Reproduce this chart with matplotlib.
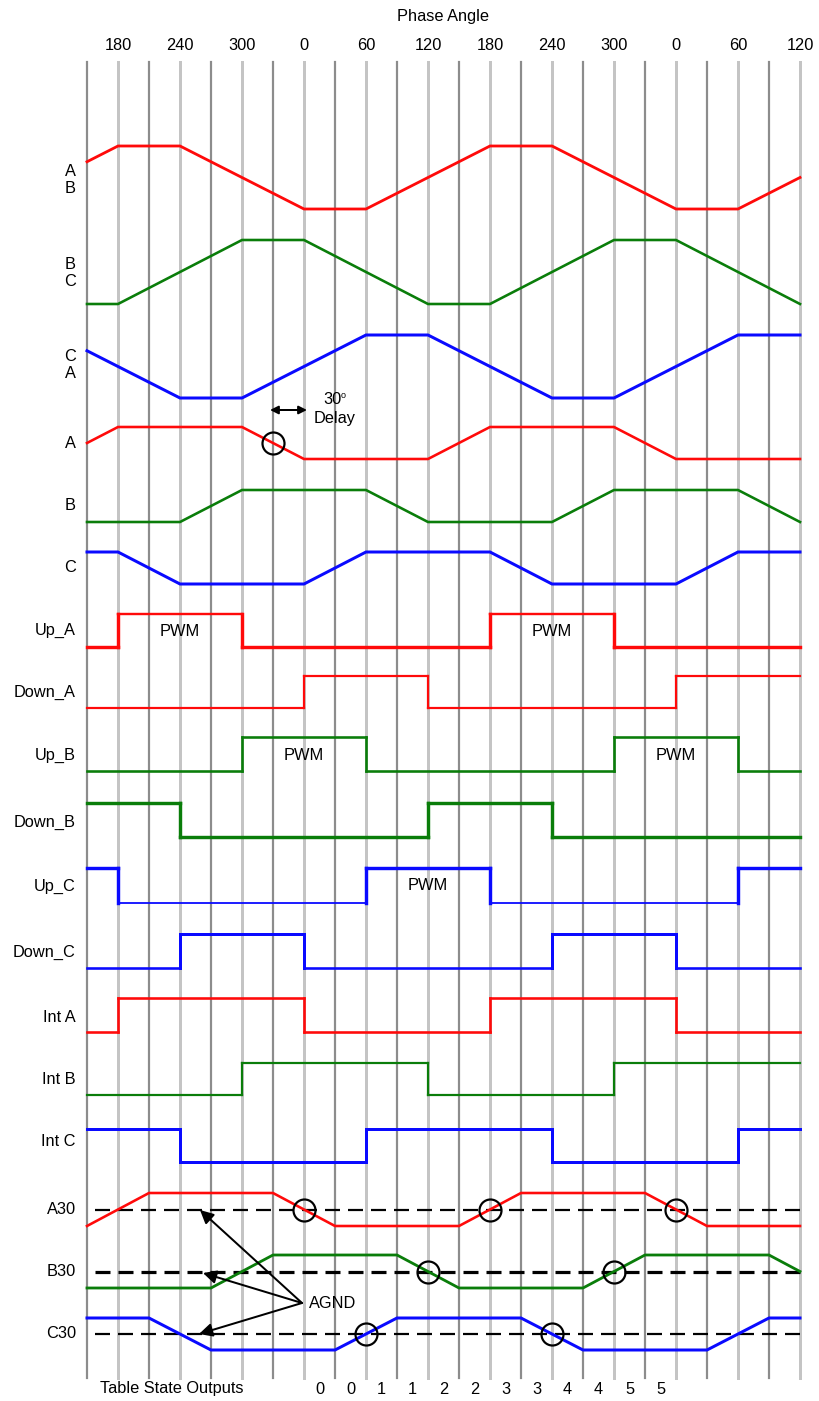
import matplotlib.pyplot as plt

plt.rcParams['font.family'] = ['Liberation Sans', 'DejaVu Sans']

# ---- data ----
phase_ticks = [180, 240, 300, 0, 60, 120, 180, 240, 300, 0, 60, 120]

# trapezoid signals: breakpoints (degrees) and levels (0 = low, 1 = high)
ab_deg = [150, 180, 240, 360, 420, 540, 600, 720, 780, 840]
ab_lvl = [0.75, 1, 1, 0, 0, 1, 1, 0, 0, 0.5]
bc_deg = [150, 180, 300, 360, 480, 540, 660, 720, 840]
bc_lvl = [0, 0, 1, 1, 0, 0, 1, 1, 0]
ca_deg = [150, 240, 300, 420, 480, 600, 660, 780, 840]
ca_lvl = [0.75, 0, 0, 1, 1, 0, 0, 1, 1]
a_deg = [150, 180, 300, 360, 480, 540, 660, 720, 840]
a_lvl = [0.5, 1, 1, 0, 0, 1, 1, 0, 0]
b_deg = [150, 240, 300, 420, 480, 600, 660, 780, 840]
b_lvl = [0, 0, 1, 1, 0, 0, 1, 1, 0]
c_deg = [150, 180, 240, 360, 420, 540, 600, 720, 780, 840]
c_lvl = [1, 1, 0, 0, 1, 1, 0, 0, 1, 1]
a30_deg = [150, 210, 330, 390, 510, 570, 690, 750, 840]
a30_lvl = [0, 1, 1, 0, 0, 1, 1, 0, 0]
b30_deg = [150, 270, 330, 450, 510, 630, 690, 810, 840]
b30_lvl = [0, 0, 1, 1, 0, 0, 1, 1, 0.5]
c30_deg = [150, 210, 270, 390, 450, 570, 630, 750, 810, 840]
c30_lvl = [1, 1, 0, 0, 1, 1, 0, 0, 1, 1]

# digital signals: edge positions (degrees) and level after each edge
up_a_deg = [150, 180, 300, 540, 660, 840]
up_a_lvl = [0, 1, 0, 1, 0, 0]
down_a_deg = [150, 360, 480, 720, 840]
down_a_lvl = [0, 1, 0, 1, 1]
up_b_deg = [150, 300, 420, 660, 780, 840]
up_b_lvl = [0, 1, 0, 1, 0, 0]
down_b_deg = [150, 240, 480, 600, 840]
down_b_lvl = [1, 0, 1, 0, 0]
up_c_deg = [150, 180, 420, 540, 780, 840]
up_c_lvl = [1, 0, 1, 0, 1, 1]
down_c_deg = [150, 240, 360, 600, 720, 840]
down_c_lvl = [0, 1, 0, 1, 0, 0]
int_a_deg = [150, 180, 360, 540, 720, 840]
int_a_lvl = [0, 1, 0, 1, 0, 0]
int_b_deg = [150, 300, 480, 660, 840]
int_b_lvl = [0, 1, 0, 1, 1]
int_c_deg = [150, 240, 420, 600, 780, 840]
int_c_lvl = [1, 0, 1, 0, 1, 1]

# zero crossings marked with circles
a_circles = [330]
a30_circles = [360, 540, 720]
b30_circles = [480, 660]
c30_circles = [420, 600]

pwm_up_a = [240, 600]
pwm_up_b = [360, 720]
pwm_up_c = [480]

state_labels = ['0', '0', '1', '1', '2', '2', '3', '3', '4', '4', '5', '5']
state_deg = [375, 405, 435, 465, 495, 525, 555, 585, 615, 645, 675, 705]

RED, GREEN, BLUE = '#ff0a0a', '#0a7d0a', '#0a0aff'
PX = 0.72  # points per pixel at 100 dpi
FS = 11.8

# ---- figure: x in degrees (31 px per 30 deg, 150 deg at px 87), y in px ----
fig = plt.figure(figsize=(8.19, 14.01), dpi=100)
ax = fig.add_axes([0, 0, 1, 1])
d0 = 150 - 87 * 30 / 31
ax.set_xlim(d0, d0 + 819 * 30 / 31)
ax.set_ylim(1401, 0)
ax.axis('off')


def px2deg(x):
    return 150 + (x - 87) * 30 / 31


# vertical grid
for i, d in enumerate(range(150, 841, 30)):
    if i % 2 == 0:
        ax.plot([d, d], [62, 1378], color='#8c8c8c', lw=2.2 * PX, zorder=1)
    else:
        ax.plot([d, d], [62, 1378], color='#c4c4c4', lw=3.0 * PX, zorder=1)

# phase labels on top
for i, t in enumerate(phase_ticks):
    ax.text(180 + 60 * i, 45, str(t), ha='center', va='center', fontsize=FS)
ax.text(px2deg(443), 16, 'Phase Angle', ha='center', va='center', fontsize=FS)


def yof(top, bot, lvl):
    return [bot - v * (bot - top) for v in lvl]


# trapezoid rows: (deg, lvl, top, bottom, colour, lw px)
trap_rows = [
    (ab_deg, ab_lvl, 146, 209, RED, 2.8),
    (bc_deg, bc_lvl, 240, 304, GREEN, 2.6),
    (ca_deg, ca_lvl, 335, 398, BLUE, 3.0),
    (a_deg, a_lvl, 427, 459, RED, 2.6),
    (b_deg, b_lvl, 490, 522, GREEN, 2.6),
    (c_deg, c_lvl, 552, 584, BLUE, 3.0),
    (a30_deg, a30_lvl, 1193, 1226, RED, 2.6),
    (b30_deg, b30_lvl, 1255, 1288, GREEN, 2.8),
    (c30_deg, c30_lvl, 1318, 1350, BLUE, 3.0),
]
for deg, lvl, top, bot, col, lw in trap_rows:
    ax.plot(deg, yof(top, bot, lvl), color=col, lw=lw * PX, zorder=3,
            solid_joinstyle='miter')

# digital rows: (deg, lvl, top, bottom, colour, lw high px, lw low px)
step_rows = [
    (up_a_deg, up_a_lvl, 614, 647, RED, 2.4, 3.4),
    (down_a_deg, down_a_lvl, 676, 708, RED, 2.2, 2.2),
    (up_b_deg, up_b_lvl, 737, 771, GREEN, 2.6, 2.6),
    (down_b_deg, down_b_lvl, 803, 837, GREEN, 3.4, 3.4),
    (up_c_deg, up_c_lvl, 868, 903, BLUE, 3.4, 1.8),
    (down_c_deg, down_c_lvl, 934, 968, BLUE, 3.0, 2.6),
    (int_a_deg, int_a_lvl, 998, 1032, RED, 2.6, 2.6),
    (int_b_deg, int_b_lvl, 1063, 1095, GREEN, 2.2, 2.2),
    (int_c_deg, int_c_lvl, 1129, 1162, BLUE, 3.0, 3.0),
]
for deg, lvl, top, bot, col, lwh, lwl in step_rows:
    ys = yof(top, bot, lvl)
    for k in range(len(deg) - 1):
        w = lwh if lvl[k] else lwl
        ax.plot([deg[k], deg[k + 1]], [ys[k], ys[k]], color=col, lw=w * PX,
                zorder=3, solid_capstyle='projecting')
        if k + 1 < len(deg) - 1 and lvl[k + 1] != lvl[k]:
            ax.plot([deg[k + 1], deg[k + 1]], [ys[k], ys[k + 1]], color=col,
                    lw=max(lwh, lwl) * PX, zorder=3)

# row labels
labels = [('A\nB', 180), ('B\nC', 273), ('C\nA', 365), ('A', 443), ('B', 505),
          ('C', 567), ('Up_A', 630), ('Down_A', 692), ('Up_B', 755),
          ('Down_B', 822), ('Up_C', 886), ('Down_C', 952), ('Int A', 1017),
          ('Int B', 1079), ('Int C', 1141), ('A30', 1210), ('B30', 1272),
          ('C30', 1334)]
for txt, y in labels:
    ax.text(px2deg(76), y, txt, ha='right', va='center', fontsize=FS,
            multialignment='center', linespacing=1.15)

# PWM texts
for d in pwm_up_a:
    ax.text(d, 632, 'PWM', ha='center', va='center', fontsize=FS)
for d in pwm_up_b:
    ax.text(d, 755, 'PWM', ha='center', va='center', fontsize=FS)
for d in pwm_up_c:
    ax.text(d, 886, 'PWM', ha='center', va='center', fontsize=FS)

# AGND dashed reference lines
for y, lw in [(1210, 2.2), (1272, 3.2), (1334, 2.2)]:
    ax.plot([px2deg(95), 840], [y, y], color='black', lw=lw * PX, zorder=2,
            linestyle=(0, (15 / lw, 8 / lw)))

# circles at crossings
circ = dict(marker='o', ms=22 * PX, mfc='none', mec='black', mew=2.2 * PX,
            ls='none', zorder=5)
ax.plot(a_circles, [443] * len(a_circles), **circ)
ax.plot(a30_circles, [1210] * len(a30_circles), **circ)
ax.plot(b30_circles, [1272] * len(b30_circles), **circ)
ax.plot(c30_circles, [1334] * len(c30_circles), **circ)

# 30 deg delay marker
ax.annotate('', xy=(px2deg(270), 410), xytext=(px2deg(307), 410),
            arrowprops=dict(arrowstyle='<|-|>', color='black', lw=2.0 * PX,
                            mutation_scale=12, shrinkA=0, shrinkB=0), zorder=5)
ax.text(px2deg(332), 400, '30', ha='center', va='center', fontsize=FS)
ax.text(px2deg(343), 395, 'o', ha='center', va='center', fontsize=6.5)
ax.text(px2deg(335), 419, 'Delay', ha='center', va='center', fontsize=FS)

# AGND arrows
src = (px2deg(302), 1303)
for tx, ty in [(200, 1210), (203, 1273), (199, 1334)]:
    ax.annotate('', xy=(px2deg(tx), ty), xytext=src,
                arrowprops=dict(arrowstyle='-|>', color='black', lw=2.0 * PX,
                                mutation_scale=20, shrinkA=0, shrinkB=0), zorder=5)
ax.text(px2deg(309), 1303, 'AGND', ha='left', va='center', fontsize=FS)

# table state outputs
ax.text(px2deg(100), 1389, 'Table State Outputs', ha='left', va='center', fontsize=FS)
for d, s in zip(state_deg, state_labels):
    ax.text(d, 1389, s, ha='center', va='center', fontsize=FS)

fig.savefig('out.png', dpi=100, facecolor='white')
